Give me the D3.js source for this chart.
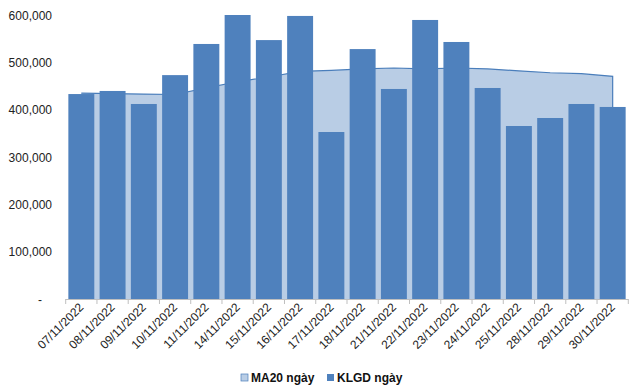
<!DOCTYPE html>
<html><head><meta charset="utf-8">
<script src="https://cdn.jsdelivr.net/npm/d3@7"></script>
<style>body{margin:0;background:#fff}svg{display:block}text{font-family:"Liberation Sans",Arial,sans-serif}</style>
</head><body>
<script>
const categories = ["07/11/2022","08/11/2022","09/11/2022","10/11/2022","11/11/2022","14/11/2022","15/11/2022","16/11/2022","17/11/2022","18/11/2022","21/11/2022","22/11/2022","23/11/2022","24/11/2022","25/11/2022","28/11/2022","29/11/2022","30/11/2022"];
const klgd = [433000,439500,412000,473000,538800,600000,547000,598000,352800,528000,443700,589500,543000,445800,365500,382400,412000,405700];
const ma20 = [435000,434000,433000,432000,446000,459000,469000,481000,483000,486000,488000,486000,488000,486000,482000,478000,476000,470500];
const yTicks = [0,100000,200000,300000,400000,500000,600000];
const seriesNames = ["MA20 ngày","KLGD ngày"];

const W=638,H=388;
const m={l:65.7,r:9.7,t:15,b:89};
const svg=d3.select("body").append("svg").attr("width",W).attr("height",H);
const x=d3.scaleBand().domain(categories).range([m.l,W-m.r]).paddingInner(0.17).paddingOuter(0.085);
const y=d3.scaleLinear().domain([0,600000]).range([H-m.b,m.t]);
const fmt=d3.format(",");

// area
const cx=d=>x(d)+x.bandwidth()/2;
const pts=categories.map((c,i)=>[cx(c),ma20[i]]);
svg.append("path").datum(pts)
  .attr("d",d3.area().x(d=>d[0]).y0(y(0)).y1(d=>y(d[1])))
  .attr("fill","#B9CDE5");
svg.append("path").datum(pts)
  .attr("d",d3.line().x(d=>d[0]).y(d=>y(d[1]))(pts)+"L"+pts[pts.length-1][0]+","+y(0))
  .attr("fill","none").attr("stroke","#4A7EBB").attr("stroke-width",1.2);

// bars
svg.selectAll("rect.bar").data(categories).join("rect").attr("class","bar")
  .attr("x",d=>x(d)).attr("width",x.bandwidth())
  .attr("y",(d,i)=>y(klgd[i])).attr("height",(d,i)=>y(0)-y(klgd[i]))
  .attr("fill","#4F81BD");

// y axis labels
svg.selectAll("text.yl").data(yTicks).join("text").attr("class","yl")
  .attr("x",52).attr("y",d=>y(d)+4.5).attr("text-anchor","end")
  .attr("font-size",12).attr("fill","#222")
  .attr("dx",d=>d===0?-10:0)
  .text(d=>d===0?"-":fmt(d));

// x axis
const step=x.step();
svg.append("line").attr("x1",m.l).attr("x2",W-m.r).attr("y1",y(0)+0.5).attr("y2",y(0)+0.5).attr("stroke","#BFBFBF");
const bounds=d3.range(categories.length+1).map(i=>m.l+i*step);
svg.selectAll("line.tk").data(bounds).join("line").attr("class","tk")
  .attr("x1",d=>d).attr("x2",d=>d).attr("y1",y(0)).attr("y2",y(0)+5).attr("stroke","#BFBFBF");
svg.selectAll("text.xl").data(categories).join("text").attr("class","xl")
  .attr("transform",d=>`translate(${cx(d)+3},${y(0)+9}) rotate(-45)`)
  .attr("text-anchor","end").attr("font-size",12).attr("fill","#222")
  .text(d=>d);

// legend
const lg=svg.append("g");
const items=[{n:seriesNames[0],x:241,fill:"#B9CDE5",stroke:"#4A7EBB"},{n:seriesNames[1],x:327,fill:"#4F81BD",stroke:"none"}];
items.forEach(it=>{
  lg.append("rect").attr("x",it.x).attr("y",374).attr("width",7).attr("height",7).attr("fill",it.fill).attr("stroke",it.stroke).attr("stroke-width",0.7);
  lg.append("text").attr("x",it.x+10).attr("y",382).attr("font-size",12).attr("font-weight","bold").attr("fill","#111").text(it.n);
});
</script>
</body></html>
